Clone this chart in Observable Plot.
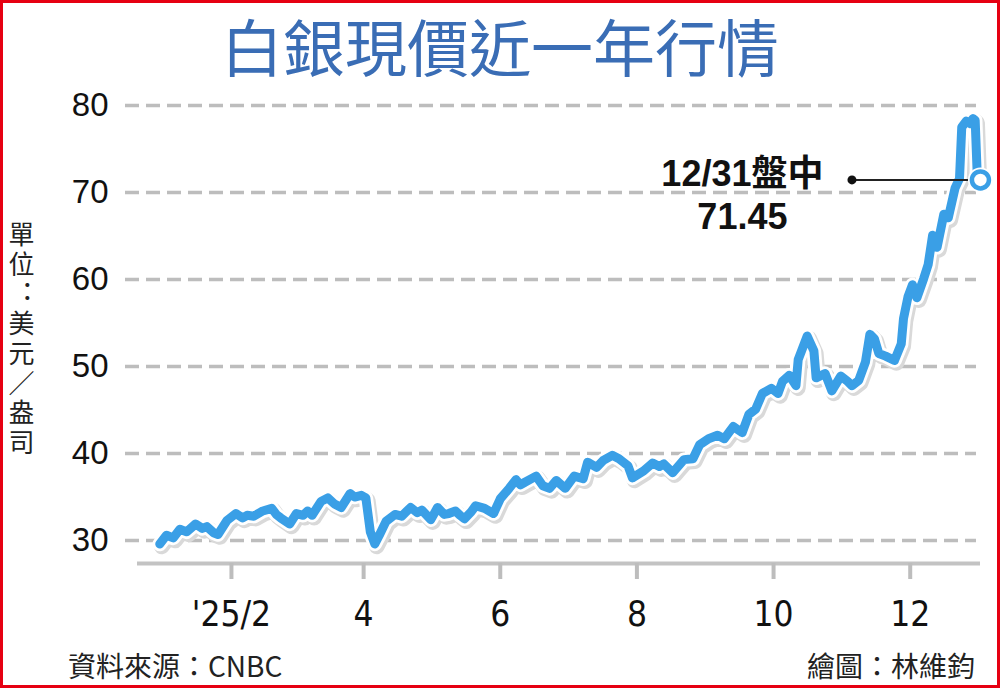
<!DOCTYPE html>
<html><head><meta charset="utf-8">
<script src="https://cdn.jsdelivr.net/npm/d3@7"></script>
<script src="https://cdn.jsdelivr.net/npm/@observablehq/plot@0.6"></script>
<style>
html,body{margin:0;padding:0;background:#fff;}
#wrap{position:relative;width:1000px;height:688px;overflow:hidden;background:#fff;}
#title{position:absolute;left:0;top:0;width:1000px;height:90px;line-height:90px;text-align:center;font-family:"Noto Sans CJK TC","Noto Sans CJK SC",sans-serif;font-size:62px;font-weight:400;color:#3a6db5;}
#chart{position:absolute;left:0;top:88px;}
#ylab{position:absolute;left:6px;top:221px;writing-mode:vertical-rl;text-orientation:upright;font-feature-settings:"vert" 0;font-family:"Noto Sans CJK TC",sans-serif;font-size:26px;line-height:30px;letter-spacing:3.75px;color:#222;}
.foot{position:absolute;top:650px;line-height:30px;font-family:"Liberation Sans Narrow","Noto Sans CJK TC",sans-serif;font-size:28px;color:#222;}
#src{left:68px;}
#credit{right:25px;}
#frame{position:absolute;left:0;top:0;width:1000px;height:688px;box-sizing:border-box;border:3px solid #e60012;pointer-events:none;}
</style>
</head><body>
<div id="wrap">
  <div id="title">白銀現價近一年行情</div>
  <div id="chart"></div>
  <div id="ylab">單位：美元／盎司</div>
  <div class="foot" id="src">資料來源：CNBC</div>
  <div class="foot" id="credit">繪圖：林維鈞</div>
  <div id="frame"></div>
</div>
<script>
// ---- data ----
const dates = [
"2024-12-31","2025-01-03","2025-01-06","2025-01-09","2025-01-12","2025-01-16","2025-01-19","2025-01-21","2025-01-24","2025-01-26",
"2025-01-30","2025-02-03","2025-02-06","2025-02-08","2025-02-11","2025-02-15","2025-02-19","2025-02-21","2025-02-23","2025-02-27",
"2025-03-02","2025-03-05","2025-03-07","2025-03-09","2025-03-13","2025-03-16","2025-03-19","2025-03-22","2025-03-26","2025-03-28",
"2025-03-31","2025-04-02","2025-04-04","2025-04-06","2025-04-08","2025-04-11","2025-04-15","2025-04-18","2025-04-20","2025-04-22",
"2025-04-25","2025-04-27","2025-05-01","2025-05-04","2025-05-07","2025-05-09","2025-05-12","2025-05-14","2025-05-16","2025-05-19",
"2025-05-21","2025-05-25","2025-05-29","2025-06-01","2025-06-05","2025-06-08","2025-06-10","2025-06-12","2025-06-17","2025-06-20",
"2025-06-23","2025-06-26","2025-06-30","2025-07-04","2025-07-08","2025-07-10","2025-07-14","2025-07-17","2025-07-21","2025-07-24",
"2025-07-28","2025-07-30","2025-08-04","2025-08-08","2025-08-11","2025-08-13","2025-08-17","2025-08-22","2025-08-26","2025-08-29",
"2025-09-02","2025-09-06","2025-09-09","2025-09-13","2025-09-17","2025-09-20","2025-09-23","2025-09-26","2025-09-30","2025-10-03",
"2025-10-05","2025-10-08","2025-10-11","2025-10-12","2025-10-16","2025-10-19","2025-10-20","2025-10-24","2025-10-27","2025-10-31",
"2025-11-03","2025-11-05","2025-11-08","2025-11-11","2025-11-13","2025-11-15","2025-11-17","2025-11-20","2025-11-24","2025-11-27",
"2025-11-28","2025-11-30","2025-12-02","2025-12-04","2025-12-07","2025-12-09","2025-12-11","2025-12-13","2025-12-16","2025-12-18",
"2025-12-21","2025-12-23","2025-12-24","2025-12-26","2025-12-28","2025-12-29","2025-12-30","2025-12-31"
];
const prices = [
29.6,30.6,30.3,31.3,31.0,31.9,31.4,31.6,30.9,30.7,
32.3,33.1,32.6,32.9,32.8,33.4,33.7,33.0,32.6,31.9,
33.1,32.9,33.4,32.9,34.5,34.9,34.2,33.8,35.4,35.0,
35.2,34.9,31.0,29.6,30.6,32.2,33.0,32.8,33.3,33.8,
33.2,33.5,32.4,33.8,33.0,33.1,33.4,32.9,32.5,33.3,
34.0,33.7,33.1,34.8,36.0,37.0,36.4,36.7,37.4,36.3,
36.0,36.9,36.0,37.4,37.1,39.0,38.4,39.2,39.8,39.4,
38.6,37.2,38.0,38.9,38.5,38.8,37.8,39.3,39.4,41.0,
41.7,42.1,41.7,43.1,42.4,44.5,45.1,46.9,47.5,46.9,
48.3,49.0,47.8,50.8,53.5,51.8,48.7,49.2,47.2,48.9,
48.3,47.8,48.4,50.5,53.7,53.2,51.5,51.2,50.7,52.6,
55.5,58.0,59.4,57.9,60.1,61.7,65.1,63.7,67.5,67.1,
70.5,71.6,77.5,78.2,77.9,78.5,78.3,71.45
];
const yTicks = [30, 40, 50, 60, 70, 80];
const xTickDates = ["2025-02-01","2025-04-01","2025-06-01","2025-08-01","2025-10-01","2025-12-01"];
const xTickLabels = ["'25/2","4","6","8","10","12"];
const noteLabel = "12/31盤中";
const noteValue = "71.45";

// ---- build ----
const data = dates.map((d, i) => ({date: new Date(d + "T00:00Z"), price: prices[i]}));
const last = data[data.length - 1];
const tickDates = xTickDates.map(d => new Date(d + "T00:00Z"));
const labelOf = new Map(tickDates.map((d, i) => [+d, xTickLabels[i]]));
const leaderStart = d3.utcDay.offset(last.date, -56);
const yMin = 27.36, yMax = 81.15;
const blue = "#3a9fe6";

const chart = Plot.plot({
  width: 1000, height: 550,
  marginLeft: 125, marginRight: 20, marginTop: 7, marginBottom: 75,
  x: {type: "utc", domain: [new Date("2024-12-15T17:00Z"), new Date("2026-01-01T09:00Z")], label: null},
  y: {domain: [yMin, yMax], label: null},
  style: {background: "transparent", overflow: "visible", fontFamily: "'Liberation Sans', Arial, sans-serif"},
  marks: [
    Plot.ruleY(yTicks, {stroke: "#bdbdbd", strokeWidth: 3.5, strokeDasharray: "14,7", insetRight: 4}),
    Plot.ruleY([yMin], {stroke: "#c3c3c3", strokeWidth: 4, insetLeft: 12}),
    Plot.axisY(yTicks, {label: null, tickSize: 0, tickPadding: 17, fontSize: 33, fill: "#111", tickFormat: d => String(d)}),
    Plot.axisX(tickDates, {label: null, tickSize: 16, tickPadding: 22, stroke: "#bdbdbd", strokeWidth: 4, fill: "#111",
      fontSize: 35, fontFamily: "'Liberation Sans Narrow', 'DejaVu Sans Condensed', sans-serif",
      tickFormat: d => labelOf.get(+d)}),
    Plot.line(data, {x: "date", y: "price", stroke: "#d9d9d9", strokeWidth: 15.5, dx: 2, dy: 2.5, strokeLinejoin: "round", strokeLinecap: "round"}),
    Plot.line(data, {x: "date", y: "price", stroke: "#ffffff", strokeWidth: 14.5, strokeLinejoin: "round", strokeLinecap: "round"}),
    Plot.line(data, {x: "date", y: "price", stroke: blue, strokeWidth: 9, strokeLinejoin: "round", strokeLinecap: "round"}),
    Plot.ruleY([last], {y: "price", x1: () => leaderStart, x2: "date", stroke: "#222", strokeWidth: 2}),
    Plot.dot([last], {x: () => leaderStart, y: "price", r: 4.5, fill: "#111"}),
    Plot.dot([last], {x: "date", y: "price", r: 12.5, fill: "#fff", dx: 3}),
    Plot.dot([last], {x: "date", y: "price", r: 8.5, fill: "#fff", stroke: blue, strokeWidth: 4.5, dx: 3}),
    Plot.text([last], {x: "date", y: "price", text: () => noteLabel + "\n" + noteValue, dx: -235, dy: 14,
      fontSize: 36, fontWeight: "bold", lineHeight: 1.19, textAnchor: "middle", lineAnchor: "middle", fill: "#111",
      fontFamily: "'Liberation Sans', 'Noto Sans CJK TC', sans-serif"})
  ]
});
document.getElementById("chart").appendChild(chart);
</script>
</body></html>
